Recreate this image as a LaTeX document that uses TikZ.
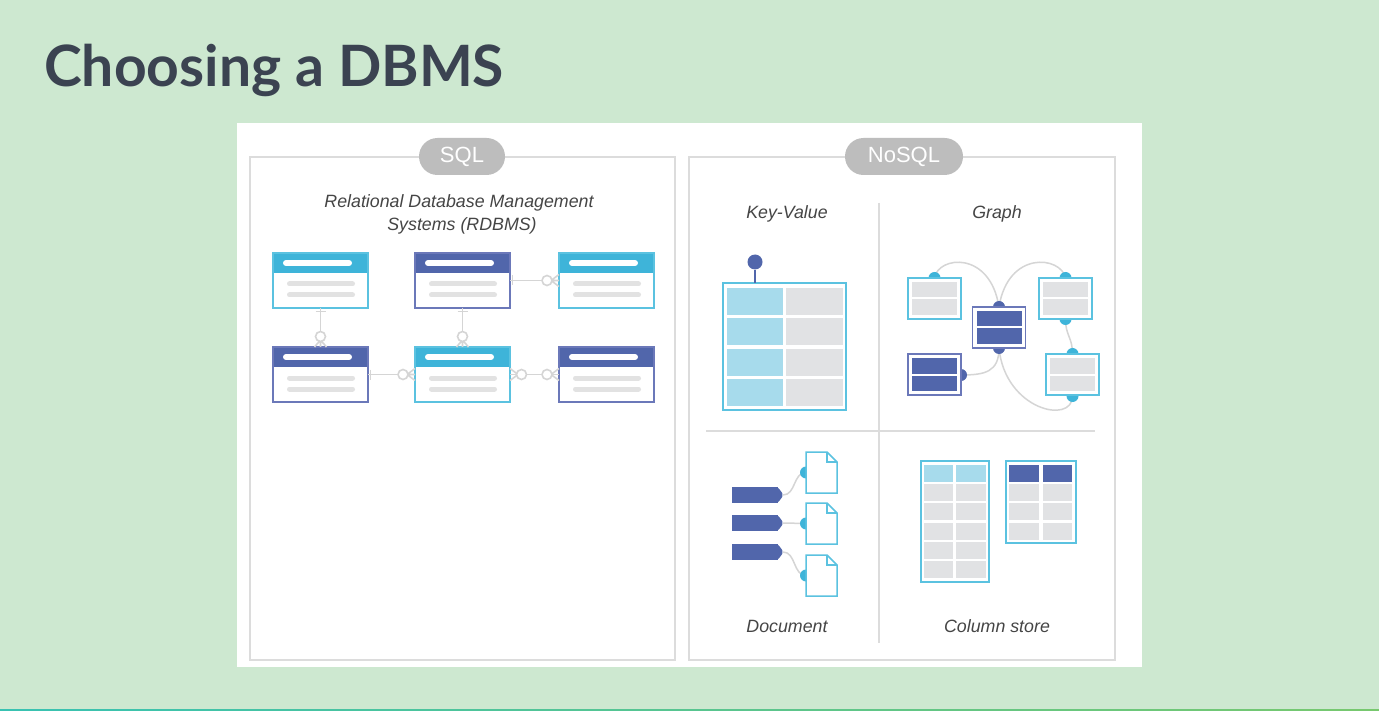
\documentclass[tikz,border=0pt]{standalone}
\usepackage{fontspec}
\setmainfont{Liberation Sans}
\newfontfamily\latofont{Lato}
\usetikzlibrary{calc,shapes.misc}
\definecolor{bg}{HTML}{CDE8D0}
\definecolor{titlec}{HTML}{3B4351}
\definecolor{cyH}{HTML}{3EB4D9}
\definecolor{cyB}{HTML}{5BC2E0}
\definecolor{blH}{HTML}{5166AB}
\definecolor{blB}{HTML}{6B78B9}
\definecolor{lcy}{HTML}{A7DBEC}
\definecolor{cellg}{HTML}{E1E2E4}
\definecolor{lineg}{HTML}{D5D5D5}
\definecolor{panelg}{HTML}{DCDCDC}
\definecolor{pillg}{HTML}{BDBDBD}
\definecolor{txt}{HTML}{454545}
\definecolor{barg}{HTML}{E2E2E2}
\definecolor{lineL}{HTML}{38C2B2}
\definecolor{lineR}{HTML}{78C86E}
\tikzset{
  panel/.style={draw=panelg, line width=1.5pt, minimum width=425pt, minimum height=503pt, anchor=north west, inner sep=0pt, outer sep=0pt},
  pill/.style={rounded rectangle, fill=pillg, text=white, minimum height=37pt, inner sep=0pt, font=\fontsize{22}{22}\selectfont},
  lbl/.style={font=\fontsize{17.8}{20}\selectfont\itshape, text=txt, inner sep=0pt},
  sqlt/.style={line width=1.5pt, minimum width=95pt, minimum height=55pt, inner sep=0pt, outer sep=0pt},
  hbar/.style={white, line width=6pt, line cap=round},
  gbar/.style={barg, line width=5pt, line cap=round},
  conn/.style={lineg, line width=1.6pt},
  gcurve/.style={lineg, line width=1.5pt},
  gbox/.style={line width=1.5pt, fill=white, anchor=north west, minimum width=53pt, minimum height=41pt, inner sep=0pt, outer sep=0pt},
  tagbox/.style={fill=blH, minimum width=46pt, minimum height=16pt, inner sep=0pt, outer sep=0pt},
  docbox/.style={minimum width=31pt, minimum height=41pt, inner sep=0pt, outer sep=0pt},
  docline/.style={draw=cyB, fill=white, line width=1.5pt, line join=miter},
  ctab/.style={draw=cyB, line width=1.8pt, inner sep=0pt, outer sep=0pt},
}
\newcommand\sqltab[5]{%
  \fill[white] (#2,#3) rectangle ++(95,55);
  \fill[#4] (#2,#3) rectangle ++(95,20);
  \draw[hbar] ($(#2,#3)+(13,10)$) -- ++(63,0);
  \draw[gbar] ($(#2,#3)+(16.5,31)$) -- ++(63,0);
  \draw[gbar] ($(#2,#3)+(16.5,42)$) -- ++(63,0);
  \node[sqlt, draw=#5, anchor=north west] (#1) at (#2,#3) {};
}
\newcommand\gnode[5]{%
  \node[gbox, draw=#4] (#1) at (#2,#3) {};
  \fill[#5] ($(#2,#3)+(4,4)$) rectangle ++(45,15.5);
  \fill[#5] ($(#2,#3)+(4,21.5)$) rectangle ++(45,15.5);
}
\newcommand\tagnode[3]{%
  \node[tagbox] (#1) at (#2,#3) {};
  \fill[blH, rounded corners=1.5pt] ($(#1.north east)+(-1,0)$) -- ++(4,4) -- ++(2,4) -- ++(-2,4) -- ++(-4,4) -- cycle;
  \coordinate (#1tip) at ($(#1.east)+(5,0)$);
}
\begin{document}
\begin{tikzpicture}[x=1pt,y=-1pt]
\useasboundingbox (0,0) rectangle (1379,711);
\fill[bg] (0,0) rectangle (1379,711);
\shade[left color=lineL, right color=lineR] (0,709) rectangle (1379,711);
\fill[white] (237,123) rectangle (1142,667);

% title
\node[anchor=base west, font=\latofont\bfseries\fontsize{57}{57}\selectfont, text=titlec, inner sep=0pt] (title) at (44,87) {Choosing a DBMS};

% panels
\node[panel] (sqlp) at (250,157) {};
\node[panel, minimum width=426pt] (nosqlp) at (689,157) {};
\node[pill, minimum width=86pt] (sqlpill) at (462,156.5) {SQL};
\node[pill, minimum width=118pt] (nosqlpill) at (904,156.5) {NoSQL};

% labels
\node[lbl] (rd1) at (459,203) {Relational Database Management};
\node[lbl] (rd2) at (462,226) {Systems (RDBMS)};
\node[lbl] (kvl) at (787,214) {Key-Value};
\node[lbl] (grl) at (997,214) {Graph};
\node[lbl] (docl) at (787,626) {Document};
\node[lbl] (csl) at (997,626) {Column store};

% dividers
\draw[panelg, line width=1.2pt] (879,203) -- (879,643);
\draw[panelg, line width=1.2pt] (706,431) -- (1095,431);

% SQL tables
\sqltab{T1}{273}{253}{cyH}{cyB}
\sqltab{T2}{415}{253}{blH}{blB}
\sqltab{T3}{559}{253}{cyH}{cyB}
\sqltab{B1}{273}{347}{blH}{blB}
\sqltab{B2}{415}{347}{cyH}{cyB}
\sqltab{B3}{559}{347}{blH}{blB}

% SQL connectors
\draw[conn] (T1.south) -- (B1.north);
\draw[conn] (315.5,311.5) -- (325.5,311.5);
\draw[conn] (314.5,347) -- (320.5,340) -- (326.5,347) (320.5,340) -- (320.5,347);
\draw[conn, fill=white] (320.5,336.5) circle (5);

\draw[conn] (T2.south) -- (B2.north);
\draw[conn] (457.5,311.5) -- (467.5,311.5);
\draw[conn] (456.5,347) -- (462.5,340) -- (468.5,347) (462.5,340) -- (462.5,347);
\draw[conn, fill=white] (462.5,336.5) circle (5);

\draw[conn] (T2.east) -- (T3.west);
\draw[conn] (512.5,275.5) -- (512.5,285.5);
\draw[conn] (559,274.5) -- (551,280.5) -- (559,286.5) (551,280.5) -- (559,280.5);
\draw[conn, fill=white] (547,280.5) circle (5);

\draw[conn] (B1.east) -- (B2.west);
\draw[conn] (370.5,369.5) -- (370.5,379.5);
\draw[conn] (415,368.5) -- (407,374.5) -- (415,380.5) (407,374.5) -- (415,374.5);
\draw[conn, fill=white] (403,374.5) circle (5);

\draw[conn] (B2.east) -- (B3.west);
\draw[conn] (510,368.5) -- (518,374.5) -- (510,380.5);
\draw[conn, fill=white] (521.5,374.5) circle (5);
\draw[conn] (559,368.5) -- (551,374.5) -- (559,380.5);
\draw[conn, fill=white] (547,374.5) circle (5);

% Key-Value
\node[draw=cyB, line width=1.5pt, fill=white, minimum width=123pt, minimum height=127pt, inner sep=0pt, outer sep=0pt] (KV) at (784.5,346.5) {};
\foreach \r in {288,318.3,348.6,378.9}{
  \fill[lcy] (727,\r) rectangle (783,\r+27);
  \fill[cellg] (786,\r) rectangle (843,\r+27);
}
\node[circle, fill=blH, minimum size=15pt, inner sep=0pt] (pin) at (755,262) {};
\draw[blH, line width=2.2pt] (pin) -- (pin |- KV.north);

% Graph
\coordinate (g1n) at (934.5,278);
\coordinate (g2n) at (999,307);
\coordinate (g2s) at (999,348);
\coordinate (g3n) at (1065.5,278);
\coordinate (g3s) at (1065.5,319);
\coordinate (g4e) at (961,375);
\coordinate (g5n) at (1072.5,354);
\coordinate (g5s) at (1072.5,396);
\draw[gcurve] (g1n) .. controls (938,256) and (990,250) .. (g2n);
\draw[gcurve] (g2n) .. controls (1008,250) and (1061,256) .. (g3n);
\draw[gcurve] (g3s) .. controls (1065.5,336) and (1072.5,337) .. (g5n);
\draw[gcurve] (g2s) .. controls (999,372) and (985,375) .. (g4e);
\draw[gcurve] (g2s) .. controls (1005,410) and (1072.5,425) .. (g5s);
\fill[cyH] (g1n) circle (6);
\fill[blH] (g2n) circle (6);
\fill[blH] (g2s) circle (6);
\fill[cyH] (g3n) circle (6);
\fill[cyH] (g3s) circle (6);
\fill[blH] (g4e) circle (6);
\fill[cyH] (g5n) circle (6);
\fill[cyH] (g5s) circle (6);
\gnode{G1}{908}{278}{cyB}{cellg}
\gnode{G2}{972.5}{307}{blB}{blH}
\gnode{G3}{1039}{278}{cyB}{cellg}
\gnode{G4}{908}{354}{blB}{blH}
\gnode{G5}{1046}{354}{cyB}{cellg}

% Document
\tagnode{tg1}{755}{495}
\tagnode{tg2}{755}{523}
\tagnode{tg3}{755}{552}
\node[docbox] (D1) at (821.5,472.5) {};
\node[docbox] (D2) at (821.5,523.5) {};
\node[docbox] (D3) at (821.5,575.5) {};
\draw[gcurve] (tg1tip) .. controls (796,495) and (793,472.5) .. (D1.west);
\draw[gcurve] (tg2tip) -- (D2.west);
\draw[gcurve] (tg3tip) .. controls (796,552) and (793,575.5) .. (D3.west);
\fill[cyH] (D1.west) circle (6);
\fill[cyH] (D2.west) circle (6);
\fill[cyH] (D3.west) circle (6);
\foreach \d in {D1,D2,D3}{
  \draw[docline] (\d.north west) -- ($(\d.north east)+(-10,0)$) -- ($(\d.north east)+(0,10)$) -- (\d.south east) -- (\d.south west) -- cycle;
  \draw[cyB, line width=1.2pt] ($(\d.north east)+(-10,0)$) -- ++(0,10) -- ++(10,0);
}

% Column store
\node[ctab, minimum width=68pt, minimum height=121pt] (CS1) at (955,521.5) {};
\node[ctab, minimum width=70pt, minimum height=82pt] (CS2) at (1041,502) {};
\foreach \r [count=\i] in {465,484.2,503.4,522.6,541.8,561}{
  \ifnum\i=1
    \fill[lcy] (924,\r) rectangle (953,\r+17);
    \fill[lcy] (956,\r) rectangle (986,\r+17);
  \else
    \fill[cellg] (924,\r) rectangle (953,\r+17);
    \fill[cellg] (956,\r) rectangle (986,\r+17);
  \fi
}
\foreach \r [count=\i] in {465,484.2,503.4,522.6}{
  \ifnum\i=1
    \fill[blH] (1009,\r) rectangle (1039,\r+17);
    \fill[blH] (1043,\r) rectangle (1072,\r+17);
  \else
    \fill[cellg] (1009,\r) rectangle (1039,\r+17);
    \fill[cellg] (1043,\r) rectangle (1072,\r+17);
  \fi
}
\end{tikzpicture}
\end{document}
